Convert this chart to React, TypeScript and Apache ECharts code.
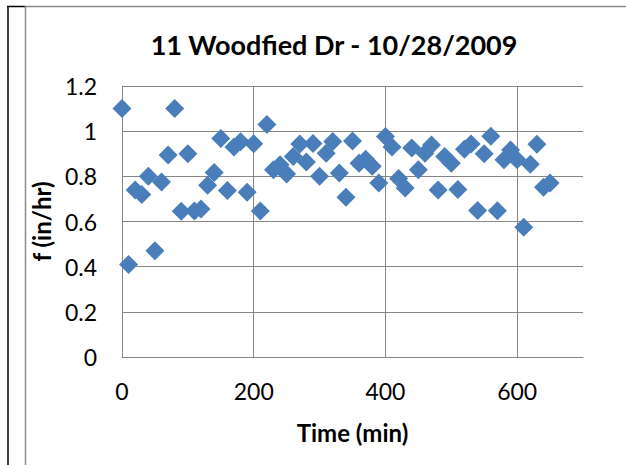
import React, { useEffect, useRef } from "react";
import * as echarts from "echarts";

const title = "11 Woodfied Dr - 10/28/2009";
const xName = "Time (min)";
const yName = "f (in/hr)";

const timeMin = [
  0, 10, 20, 30, 40, 50, 60, 70, 80, 90, 100, 110, 120, 130, 140, 150, 160, 170, 180, 190,
  200, 210, 220, 230, 240, 250, 260, 270, 280, 290, 300, 310, 320, 330, 340, 350, 360, 370, 380, 390,
  400, 410, 420, 430, 440, 450, 460, 470, 480, 490, 500, 510, 520, 530, 540, 550, 560, 570, 580, 590,
  600, 610, 620, 630, 640, 650,
];
const infiltration = [
  1.1, 0.41, 0.74, 0.72, 0.8, 0.47, 0.775, 0.895, 1.1, 0.645, 0.9, 0.647, 0.655, 0.76, 0.817, 0.967, 0.737, 0.93, 0.953, 0.73,
  0.944, 0.647, 1.03, 0.829, 0.851, 0.81, 0.888, 0.943, 0.863, 0.945, 0.8, 0.902, 0.954, 0.815, 0.707, 0.956, 0.858, 0.876, 0.845, 0.77,
  0.976, 0.93, 0.79, 0.748, 0.925, 0.829, 0.902, 0.939, 0.74, 0.888, 0.858, 0.742, 0.92, 0.943, 0.649, 0.9, 0.978, 0.648, 0.873, 0.917,
  0.873, 0.575, 0.854, 0.942, 0.752, 0.77,
];

const FONT = "Lato, 'Open Sans', sans-serif";
const GRID = "#868686";

export default function App() {
  const ref = useRef<HTMLDivElement>(null);
  useEffect(() => {
    if (!ref.current) return;
    const chart = echarts.init(ref.current, undefined, { renderer: "svg" });
    const data = timeMin.map((t, i) => [t, infiltration[i]]);
    chart.setOption({
      animation: false,
      backgroundColor: "#ffffff",
      textStyle: { fontFamily: FONT },
      title: {
        text: title,
        left: 329,
        top: 26,
        textAlign: "center",
        textStyle: { fontFamily: FONT, fontWeight: "bold", fontSize: 27, color: "#000" },
      },
      grid: { left: 122, top: 86, right: 43, bottom: 108, containLabel: false },
      xAxis: {
        type: "value",
        min: 0,
        max: 700,
        interval: 200,
        name: xName,
        nameLocation: "middle",
        nameGap: 63,
        nameTextStyle: { fontFamily: FONT, fontWeight: "bold", fontSize: 24, color: "#000" },
        axisLine: { show: true, onZero: false, lineStyle: { color: GRID, width: 1 } },
        axisTick: { show: false },
        axisLabel: { show: true, showMaxLabel: false, margin: 22, fontSize: 23, color: "#000", fontFamily: FONT },
        splitLine: { show: true, showMaxLine: false, lineStyle: { color: GRID, width: 1 } },
      },
      yAxis: {
        type: "value",
        min: 0,
        max: 1.2,
        interval: 0.2,
        name: yName,
        nameLocation: "middle",
        nameGap: 58,
        nameRotate: 90,
        nameTextStyle: { fontFamily: FONT, fontWeight: "bold", fontSize: 24, color: "#000" },
        axisLine: { show: true, lineStyle: { color: GRID, width: 1 } },
        axisTick: { show: false },
        axisLabel: {
          margin: 25,
          fontSize: 23,
          color: "#000",
          fontFamily: FONT,
          formatter: (v: number) => String(Math.round(v * 10) / 10),
        },
        splitLine: { show: true, lineStyle: { color: GRID, width: 1 } },
      },
      series: [
        {
          type: "scatter",
          data,
          symbol: "diamond",
          symbolSize: 19,
          itemStyle: { color: "#4A7EBB", opacity: 1 },
        },
      ],
      graphic: [
        { type: "line", shape: { x1: 8, y1: 6.5, x2: 8, y2: 465 }, style: { stroke: "#000", lineWidth: 1.5 } },
        { type: "line", shape: { x1: 7, y1: 6.5, x2: 25, y2: 6.5 }, style: { stroke: "#000", lineWidth: 1.5 } },
        { type: "line", shape: { x1: 25, y1: 6.5, x2: 626, y2: 6.5 }, style: { stroke: "#8a8a8a", lineWidth: 1.5 } },
        { type: "line", shape: { x1: 25.5, y1: 6, x2: 25.5, y2: 465 }, style: { stroke: "#8a8a8a", lineWidth: 1.5 } },
      ],
    });
    return () => chart.dispose();
  }, []);
  return (
    <div
      ref={ref}
      style={{ position: "absolute", left: 0, top: 0, width: 626, height: 465, background: "#fff" }}
    />
  );
}
